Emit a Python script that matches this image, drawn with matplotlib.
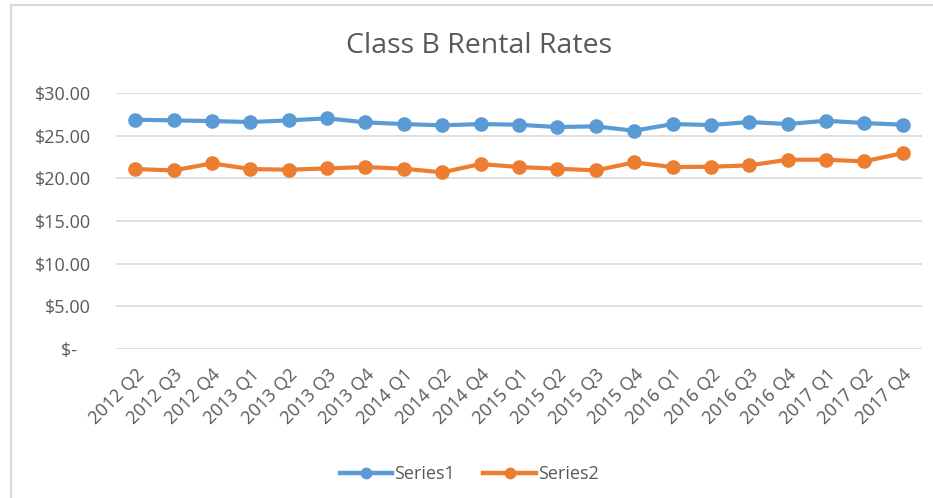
import numpy as np
import matplotlib
matplotlib.use("Agg")
import matplotlib.pyplot as plt
from matplotlib.lines import Line2D

quarters = ["2012 Q2", "2012 Q3", "2012 Q4", "2013 Q1", "2013 Q2", "2013 Q3", "2013 Q4",
            "2014 Q1", "2014 Q2", "2014 Q4", "2015 Q1", "2015 Q2", "2015 Q3", "2015 Q4",
            "2016 Q1", "2016 Q2", "2016 Q3", "2016 Q4", "2017 Q1", "2017 Q2", "2017 Q4"]
series1 = [26.87, 26.79, 26.71, 26.60, 26.79, 27.03, 26.56, 26.36, 26.21, 26.36, 26.28,
           26.01, 26.09, 25.58, 26.36, 26.25, 26.60, 26.36, 26.75, 26.48, 26.28]
series2 = [21.09, 20.93, 21.75, 21.09, 21.01, 21.16, 21.32, 21.13, 20.70, 21.68, 21.32,
           21.13, 20.93, 21.87, 21.32, 21.36, 21.52, 22.18, 22.18, 21.99, 22.96]
yticks = [0, 5, 10, 15, 20, 25, 30]
ytick_labels = ["$-   ", "$5.00", "$10.00", "$15.00", "$20.00", "$25.00", "$30.00"]

text_color = "#595959"
plt.rcParams["font.family"] = ["Open Sans", "DejaVu Sans"]

W, H = 933, 498
fig = plt.figure(figsize=(W / 100, H / 100), dpi=100)
# plot area in pixels: x 116..922, y 93..349
ax = fig.add_axes([116 / W, 1 - 349 / H, (922 - 116) / W, (349 - 93) / H])

x = np.arange(len(quarters))
ax.plot(x, series1, color="#5B9BD5", lw=3.0, marker="o", ms=9.5, label="Series1", zorder=3)
ax.plot(x, series2, color="#ED7D31", lw=3.0, marker="o", ms=9.5, label="Series2", zorder=3)

ax.set_xlim(-0.5, len(quarters) - 0.5)
ax.set_ylim(0, 30)
ax.set_yticks(yticks)
ax.set_yticklabels(ytick_labels)
ax.set_xticks(x)
ax.set_xticklabels(quarters, rotation=45, ha="right", rotation_mode="anchor")
ax.grid(axis="y", color="#D9D9D9", lw=1.2)
ax.set_axisbelow(True)
for s in ax.spines.values():
    s.set_visible(False)
ax.tick_params(axis="both", length=0, colors=text_color, labelsize=13)
ax.tick_params(axis="y", pad=18)
ax.tick_params(axis="x", pad=12)

fig.text(479 / W, 1 - 46 / H, "Class B Rental Rates", ha="center", va="center",
         fontsize=20.5, color=text_color)

handles = [Line2D([], [], color="#5B9BD5", lw=3.2, marker="o", ms=7.5),
           Line2D([], [], color="#ED7D31", lw=3.2, marker="o", ms=7.5)]
fig.legend(handles, ["Series1", "Series2"], loc="center", bbox_to_anchor=(469 / W, 1 - 474 / H),
           ncol=2, frameon=False, fontsize=13, labelcolor=text_color,
           handlelength=2.9, columnspacing=1.6, handletextpad=0.1)

# chart border (top and left edges visible)
fig.add_artist(Line2D([11 / W, 11 / W], [0, 1 - 5 / H], color="#D9D9D9", lw=1.5))
fig.add_artist(Line2D([11 / W, 1], [1 - 5 / H, 1 - 5 / H], color="#D9D9D9", lw=1.5))

fig.savefig("out.png", dpi=100)
